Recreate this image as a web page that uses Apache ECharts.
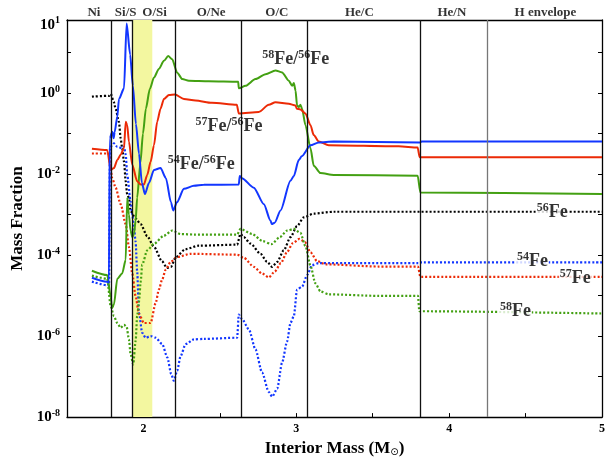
<!DOCTYPE html>
<html><head><meta charset="utf-8">
<script src="https://cdn.jsdelivr.net/npm/echarts@6/dist/echarts.min.js"></script>
<style>html,body{margin:0;padding:0;background:#fff}#c{width:608px;height:462px}</style>
</head><body><div id="c"></div>
<script>
// ---- data: [interior mass (Msun), mass fraction or ratio] ----
const ratio54 = [[1.663,2.75e-5],[1.761,2.2e-5],[1.774,2.1e-5],[1.780,7.6e-2],[1.796,0.11],[1.805,7.6e-2],[1.812,0.11],[1.829,0.26],[1.840,0.71],[1.873,1.3],[1.890,52],[1.913,8.9],[1.931,1.5],[1.951,0.17],[1.971,3.2e-2],[1.990,6e-3],[2.010,3.2e-3],[2.036,6e-3],[2.069,1.26e-2],[2.112,1.4e-2],[2.147,7.9e-3],[2.180,2e-3],[2.195,1.26e-3],[2.219,2e-3],[2.265,4.3e-3],[2.330,5.1e-3],[2.395,5.4e-3],[2.624,5.5e-3],[2.630,8.9e-3],[2.644,7.9e-3],[2.722,4.6e-3],[2.788,1.8e-3],[2.831,7.1e-4],[2.840,5.8e-4],[2.859,6.3e-4],[2.897,1.26e-3],[2.962,6.8e-3],[2.984,8.9e-3],[3.016,2.2e-2],[3.036,2.75e-2],[3.093,5.1e-2],[3.147,6e-2],[3.245,6.3e-2],[3.807,6.0e-2],[3.820,6.3e-2],[5.0,6.3e-2]];
const ratio57 = [[1.663,4.2e-2],[1.763,3.9e-2],[1.786,1.26e-2],[1.807,1.4e-2],[1.829,2.2e-2],[1.851,3e-2],[1.873,4.3e-2],[1.884,0.195],[1.894,0.16],[1.905,6.3e-2],[1.927,1.7e-2],[1.959,6.6e-3],[1.982,5.5e-3],[2.003,5.5e-3],[2.025,9.5e-3],[2.047,2e-2],[2.069,5.1e-2],[2.090,0.195],[2.112,0.41],[2.134,0.71],[2.167,0.89],[2.206,0.91],[2.265,0.71],[2.341,0.65],[2.448,0.57],[2.611,0.51],[2.624,0.31],[2.755,0.34],[2.820,0.51],[2.864,0.59],[2.951,0.54],[2.995,0.49],[3.003,0.41],[3.027,0.39],[3.060,0.31],[3.093,0.16],[3.114,9.1e-2],[3.147,6.3e-2],[3.212,5.1e-2],[3.670,4.8e-2],[3.794,4.5e-2],[3.807,2.6e-2],[5.0,2.6e-2]];
const ratio58 = [[1.663,4.1e-5],[1.763,3.2e-5],[1.786,9.5e-6],[1.794,4.9e-6],[1.807,6e-6],[1.829,2.6e-5],[1.861,3.5e-5],[1.884,7.6e-5],[1.894,2.6e-3],[1.905,1e-3],[1.916,4e-4],[1.927,2.75e-4],[1.938,3.3e-4],[1.949,7.1e-4],[1.959,2.6e-3],[1.980,1.86e-2],[1.997,0.1],[2.016,0.41],[2.042,1.26],[2.069,2.4],[2.101,3.9],[2.134,6.2],[2.162,8.1],[2.188,6.8],[2.221,3.16],[2.254,2.2],[2.297,2.0],[2.428,1.95],[2.620,1.9],[2.624,1.3],[2.668,1.5],[2.733,2.2],[2.799,2.9],[2.864,3.6],[2.907,3.2],[2.951,2.0],[2.973,1.5],[2.984,1.75],[2.995,1.15],[3.005,0.49],[3.016,0.45],[3.027,0.51],[3.038,0.41],[3.060,0.16],[3.093,4.3e-2],[3.114,1.6e-2],[3.158,1.05e-2],[3.245,9.5e-3],[3.794,9.1e-3],[3.812,3.5e-3],[5.0,3.2e-3]];
const fe56 = [[1.663,0.81],[1.775,0.85],[1.786,0.95],[1.807,0.59],[1.818,0.41],[1.840,0.19],[1.851,7.6e-2],[1.861,4.3e-2],[1.873,2e-2],[1.884,6.6e-3],[1.894,3.1e-3],[1.905,2.6e-3],[1.916,1.2e-3],[1.949,7.9e-4],[1.982,5.8e-4],[2.025,2.9e-4],[2.069,1.6e-4],[2.121,7.1e-5],[2.154,4.8e-5],[2.180,5.1e-5],[2.212,8.9e-5],[2.276,1.4e-4],[2.363,1.7e-4],[2.613,1.8e-4],[2.635,3.3e-4],[2.657,2.75e-4],[2.701,1.9e-4],[2.766,1.07e-4],[2.809,6.8e-5],[2.842,5.1e-5],[2.875,6.8e-5],[2.918,1.3e-4],[2.962,2.75e-4],[3.005,5.2e-4],[3.049,8.5e-4],[3.114,1.05e-3],[3.245,1.17e-3],[5.0,1.17e-3]];
const fe54 = [[1.663,2.2e-5],[1.763,1.8e-5],[1.775,1.8e-5],[1.781,4.5e-2],[1.796,5.1e-2],[1.807,5.7e-2],[1.829,4.7e-2],[1.861,4.3e-2],[1.873,4.7e-2],[1.884,3e-2],[1.894,9.5e-3],[1.916,2.1e-3],[1.927,1e-3],[1.938,4.8e-4],[1.949,2.1e-4],[1.959,3.9e-5],[1.971,3.7e-6],[1.992,1.2e-6],[2.014,9.1e-7],[2.047,1e-6],[2.080,9.1e-7],[2.123,6.3e-7],[2.156,3e-7],[2.182,1.15e-7],[2.199,7.9e-8],[2.221,1.4e-7],[2.243,3.2e-7],[2.276,6.3e-7],[2.330,8.3e-7],[2.395,8.5e-7],[2.613,9.1e-7],[2.624,3.4e-6],[2.646,2.6e-6],[2.690,1.45e-6],[2.733,4.7e-7],[2.776,1.26e-7],[2.820,4.2e-8],[2.842,3.2e-8],[2.875,5e-8],[2.907,2.2e-7],[2.940,7.4e-7],[2.962,2.1e-6],[2.984,3.1e-6],[3.005,1.4e-5],[3.038,1.66e-5],[3.071,3.2e-5],[3.103,5.6e-5],[3.147,6.3e-5],[3.801,6.3e-5],[3.820,6.6e-5],[5.0,6.6e-5]];
const fe57 = [[1.663,3.2e-2],[1.763,3.2e-2],[1.775,3.1e-2],[1.796,7.9e-3],[1.818,4.6e-3],[1.851,1.8e-3],[1.884,5.8e-4],[1.905,1.6e-4],[1.927,3.5e-5],[1.949,9.5e-6],[1.971,3.5e-6],[2.003,2.1e-6],[2.047,2.1e-6],[2.080,6.5e-6],[2.101,1.4e-5],[2.123,2.5e-5],[2.145,4.3e-5],[2.178,6.8e-5],[2.221,8.9e-5],[2.308,1.07e-4],[2.613,1.02e-4],[2.657,8.5e-5],[2.722,5.1e-5],[2.776,3.5e-5],[2.820,2.8e-5],[2.859,3.9e-5],[2.899,6.3e-5],[2.938,1.15e-4],[2.977,1.95e-4],[3.020,2.5e-4],[3.056,2.1e-4],[3.093,1.17e-4],[3.136,7.1e-5],[3.191,5.9e-5],[3.539,5.2e-5],[3.796,5.2e-5],[3.812,2.9e-5],[5.0,2.9e-5]];
const fe58 = [[1.663,3.1e-5],[1.763,2.6e-5],[1.786,5.4e-6],[1.807,3.1e-6],[1.829,2.1e-6],[1.851,1.6e-6],[1.873,1.9e-6],[1.890,1.7e-6],[1.905,8.3e-7],[1.916,3.6e-7],[1.933,2e-7],[1.949,7.6e-7],[1.959,3.1e-6],[1.971,7.1e-6],[1.982,2.2e-5],[1.992,5.8e-5],[2.025,1.3e-4],[2.069,1.9e-4],[2.134,3e-4],[2.188,4e-4],[2.243,3.3e-4],[2.330,3.2e-4],[2.613,3.2e-4],[2.635,4.4e-4],[2.711,3.3e-4],[2.781,2.2e-4],[2.837,1.86e-4],[2.892,2.75e-4],[2.940,4e-4],[2.984,4.4e-4],[3.027,3.5e-4],[3.060,1.66e-4],[3.093,5.4e-5],[3.125,2e-5],[3.158,1.26e-5],[3.212,1.07e-5],[3.539,9.8e-6],[3.796,9.8e-6],[3.805,4.1e-6],[5.0,3.6e-6]];

const zoneNames = ['Ni','Si/S','O/Si','O/Ne','O/C','He/C','He/N','H envelope'];
const zoneCenters = [1.676,1.884,2.073,2.443,2.873,3.413,4.018,4.63];
const zoneBoundaries = [1.788,1.925,2.207,2.637,3.069,3.814];
const envelopeBoundary = 4.245;
const shadedBand = [1.925,2.058];
const xTickLabels = ['2','3','4','5'];
const yTickLabels = ['10^0','10^-2','10^-4','10^-6','10^-8'];
const xMin = 1.5, xMax = 5.0;
const yMin = 1e-8, yMax = Math.pow(10,1.8);

const ratioLabels = [
  {txt:['58','Fe/','56','Fe'], at:[2.996,6.8]},
  {txt:['57','Fe/','56','Fe'], at:[2.56,0.148]},
  {txt:['54','Fe/','56','Fe'], at:[2.378,1.75e-2]}
];
const isoLabels = [
  {txt:['56','Fe'], at:[4.675,1.1e-3]},
  {txt:['54','Fe'], at:[4.545,7.1e-5]},
  {txt:['57','Fe'], at:[4.825,2.6e-5]},
  {txt:['58','Fe'], at:[4.434,4.1e-6]}
];

const SERIF = "'Liberation Serif','Times New Roman',serif";
const COL = {blue:'#1236ff', red:'#ec2a06', green:'#43a012', black:'#000'};
const rich = {
  b:{fontFamily:SERIF,fontWeight:'bold',fontSize:18,color:'#000',lineHeight:21,textBorderWidth:0},
  s:{fontFamily:SERIF,fontWeight:'bold',fontSize:12,color:'#000',verticalAlign:'top',lineHeight:13,textBorderWidth:0}
};
function fmtIso(parts){ let out=''; for(let i=0;i<parts.length;i+=2){ out+='{s|'+parts[i]+'}{b|'+parts[i+1]+'}'; } return out; }

const labelData = [];
zoneNames.forEach((n,i)=>labelData.push({value:[zoneCenters[i],yMax],label:{show:true,position:'top',distance:1,formatter:n,fontFamily:SERIF,fontWeight:'bold',fontSize:13,color:'#000',textBorderWidth:0}}));
ratioLabels.forEach(r=>labelData.push({value:r.at,label:{show:true,position:'inside',formatter:fmtIso(r.txt),rich:rich,textBorderWidth:0}}));
isoLabels.forEach(r=>labelData.push({value:r.at,label:{show:true,position:'inside',formatter:fmtIso(r.txt),rich:rich,textBorderWidth:0,backgroundColor:'#fff',padding:[0,1]}}));

function lineSeries(name,data,color,dotted,z){
  return {name,type:'line',data,showSymbol:false,symbol:'none',smooth:0.25,smoothMonotone:'x',z,
    lineStyle:{color,width:dotted?2.2:2,type:dotted?[2,2]:'solid'},emphasis:{disabled:true}};
}

const labelRich = {
  b:{fontFamily:SERIF,fontWeight:'bold',fontSize:15,color:'#000',lineHeight:18},
  s:{fontFamily:SERIF,fontWeight:'bold',fontSize:10,color:'#000',verticalAlign:'top',lineHeight:11},
  bt:{fontFamily:SERIF,fontWeight:'bold',fontSize:15,color:'#000',padding:[10,0,0,0]},
  st:{fontFamily:SERIF,fontWeight:'bold',fontSize:10,color:'#000',verticalAlign:'top',padding:[8,0,0,0]}
};

const chart = echarts.init(document.getElementById('c'),null,{renderer:'canvas'});
chart.setOption({
  animation:false,
  backgroundColor:'#fff',
  grid:{left:67,right:3,top:20,bottom:39},
  xAxis:[{
    type:'value',min:xMin,max:xMax,interval:0.5,position:'bottom',
    axisLine:{lineStyle:{color:'#000',width:1.3}},
    axisTick:{inside:true,length:4,lineStyle:{color:'#000'}},
    splitLine:{show:false},
    axisLabel:{margin:6,fontFamily:SERIF,fontWeight:'bold',fontSize:12,color:'#000',
      formatter:v=>{const s=String(Math.round(v)); return (Math.abs(v-Math.round(v))<1e-6 && xTickLabels.includes(s))?s:'';}},
    name:'{b|Interior Mass (M}{sub|⊙}{b|)}',nameLocation:'middle',nameGap:20,
    nameTextStyle:{rich:{b:{fontFamily:SERIF,fontWeight:'bold',fontSize:17,color:'#000'},sub:{fontFamily:'DejaVu Sans',fontSize:10,color:'#000',verticalAlign:'bottom',padding:[6,0,0,0]}}}
  },{
    type:'value',min:xMin,max:xMax,position:'top',
    axisLine:{lineStyle:{color:'#000',width:1.3}},axisTick:{show:false},axisLabel:{show:false},splitLine:{show:false}
  }],
  yAxis:[{
    type:'log',logBase:10,min:yMin,max:yMax,interval:1,position:'left',
    axisLine:{lineStyle:{color:'#000',width:1.3}},
    axisTick:{inside:true,length:4,lineStyle:{color:'#000'}},
    splitLine:{show:false},minorTick:{show:false},
    axisLabel:{margin:7,showMaxLabel:true,showMinLabel:true,rich:labelRich,
      formatter:v=>{
        if(v>20) return '{bt|10}{st|1}';
        const e=Math.round(Math.log10(v));
        const key='10^'+e;
        if(!yTickLabels.includes(key)) return '';
        return '{b|10}{s|'+e+'}';
      }},
    name:'Mass Fraction',nameLocation:'middle',nameGap:34,nameRotate:90,
    nameTextStyle:{fontFamily:SERIF,fontWeight:'bold',fontSize:17,color:'#000'}
  },{
    type:'log',logBase:10,min:yMin,max:yMax,interval:1,position:'right',
    axisLine:{lineStyle:{color:'#000',width:1.3}},
    axisTick:{inside:true,length:4,lineStyle:{color:'#000'}},
    axisLabel:{show:false},splitLine:{show:false}
  }],
  series:[
    {type:'line',data:[],z:1,silent:true,
      markArea:{silent:true,itemStyle:{color:'#f3f7a0'},data:[[{xAxis:shadedBand[0]},{xAxis:shadedBand[1]}]]},
      markLine:{silent:true,symbol:'none',label:{show:false},animation:false,
        lineStyle:{color:'#111',width:1.3,type:'solid'},
        data:zoneBoundaries.map(b=>({xAxis:b})).concat([{xAxis:envelopeBoundary,lineStyle:{color:'#777',width:1.3,type:'solid'}}])}
    },
    lineSeries('56Fe',fe56,COL.black,true,3),
    lineSeries('54Fe',fe54,COL.blue,true,3),
    lineSeries('57Fe',fe57,COL.red,true,3),
    lineSeries('58Fe',fe58,COL.green,true,3),
    lineSeries('58Fe/56Fe',ratio58,COL.green,false,4),
    lineSeries('57Fe/56Fe',ratio57,COL.red,false,4),
    lineSeries('54Fe/56Fe',ratio54,COL.blue,false,4),
    {type:'scatter',data:labelData,symbolSize:0,z:10,silent:true,clip:false}
  ]
});
</script></body></html>
